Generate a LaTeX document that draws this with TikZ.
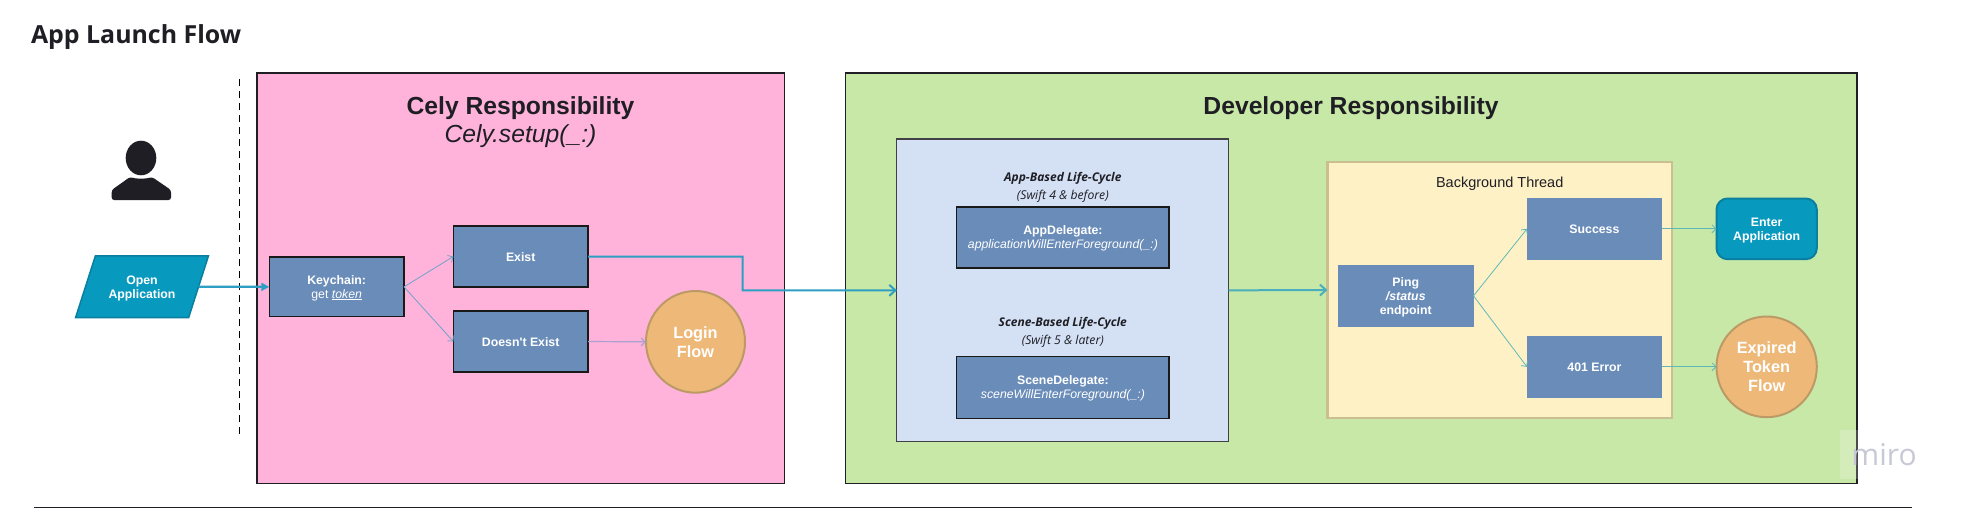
\documentclass[tikz,border=0pt]{standalone}
\usepackage{fontspec}
\setmainfont{Liberation Sans}[Ligatures=TeXOff]
\newfontfamily\opensans{Open Sans}
\usetikzlibrary{arrows.meta,shapes.geometric,calc}
\definecolor{pinkbg}{HTML}{FFB3DA}
\definecolor{greenbg}{HTML}{C8E8A8}
\definecolor{bluebg}{HTML}{D4E1F5}
\definecolor{yellowbg}{HTML}{FFF1C6}
\definecolor{yellowln}{HTML}{C9BF90}
\definecolor{boxblue}{HTML}{6A8CB9}
\definecolor{teal}{HTML}{0899BE}
\definecolor{tealdk}{HTML}{0A7F9F}
\definecolor{orangefill}{HTML}{EEB978}
\definecolor{orangeln}{HTML}{BB9A66}
\definecolor{darkink}{HTML}{1E1E24}
\definecolor{edgeteal}{HTML}{2E9FC2}
\definecolor{edgeblue}{HTML}{6FA3C8}
\definecolor{edgelav}{HTML}{A9A2D0}
\definecolor{edgegreen}{HTML}{5FB8B8}
\definecolor{miroink}{HTML}{C8C8D6}
\newcommand{\fs}[2]{\fontsize{#1}{#2}\selectfont}
\newcommand{\nudge}{\rule{0pt}{11pt}}
\newcommand{\boxat}[7]{%
  \pgfmathsetmacro{\bw}{#5-#3}\pgfmathsetmacro{\bh}{#6-#4}%
  \pgfmathsetmacro{\bx}{(#3+#5)/2}\pgfmathsetmacro{\by}{(#4+#6)/2}%
  \node[#1,minimum width=\bw pt,minimum height=\bh pt] (#2) at (\bx,\by) {#7};}
\tikzset{
  base/.style={rectangle,inner sep=0pt,outer sep=0pt,align=center},
  zone/.style={base,line width=1.1pt},
  procbox/.style={base,fill=boxblue,draw=black!90,line width=1.05pt,text=white,font=\fs{12.3}{14}},
  plainbox/.style={base,fill=boxblue,text=white,font=\fs{12.3}{14}},
  blob/.style={base,circle,ellipse,fill=orangefill,draw=orangeln,line width=2pt,text=white,font=\fs{16.3}{18.7}\bfseries},
  thinarrow/.style={line width=.8pt,-{Straight Barb[length=4pt,width=8pt]}},
  boldarrow/.style={line width=2pt,-{Straight Barb[length=6pt,width=11pt]}},
}
\begin{document}
\begin{tikzpicture}[x=1pt,y=-1pt]
\useasboundingbox (0,0) rectangle (1962,509);
\fill[white] (0,0) rectangle (1962,509);
% title
\node[base,anchor=west,font=\opensans\fs{24.9}{28}\bfseries,text=darkink] (title) at (31,37.5) {App Launch Flow};
% zones
\boxat{zone,fill=pinkbg,draw=darkink}{pink}{257}{73}{784.5}{483.5}{}
\boxat{zone,fill=greenbg,draw=darkink}{green}{845.4}{73}{1857}{483.5}{}
\node[base,font=\fs{24.7}{28}\bfseries,text=darkink] (celyt) at (520.5,108.5) {Cely Responsibility};
\node[base,font=\fs{24.7}{28}\itshape,text=darkink] (celys) at (520.5,136) {Cely.setup(\_:)};
\node[base,font=\fs{24.7}{28}\bfseries,text=darkink] (devt) at (1351,108.5) {Developer Responsibility};
% separator
\coordinate (septop) at (239.3,79);
\coordinate (sepbot) at (239.3,435);
\draw[black,line width=1.1pt,dash pattern=on 7pt off 5pt] (septop) -- (sepbot);
% person
\fill[darkink] (141,158) ellipse (15.3 and 17.3);
\fill[darkink,rounded corners=2.5pt] (111.7,200) -- (111.7,190) -- (130,177) -- (135,178.5) -- (147,178.5) -- (152,177) -- (171,190) -- (171,200) -- cycle;
% left nodes
\node[trapezium,trapezium stretches=true,trapezium left angle=62.7,trapezium right angle=117.3,
  minimum width=134pt,minimum height=61.7pt,inner sep=0pt,outer sep=0pt,fill=teal,draw=tealdk,line width=1.5pt,
  text=white,align=center,font=\fs{12.3}{14}\bfseries] (open) at (142,286.8) {\nudge Open\\Application};
\boxat{procbox}{key}{269.3}{257}{404}{316.7}{\nudge\textbf{Keychain:}\\get \textit{\underline{token}}}
\boxat{procbox,font=\fs{12.3}{14}\bfseries}{exist}{453.4}{226}{588}{287}{\nudge Exist}
\boxat{procbox,font=\fs{12.3}{14}\bfseries}{noexist}{453.4}{311}{588}{372}{\nudge Doesn't Exist}
\boxat{blob}{login}{646}{291}{745}{392.7}{Login\\Flow}
% middle
\boxat{base,fill=bluebg,draw=darkink!85,line width=1.1pt}{life}{896.8}{139}{1228.6}{441.7}{}
\node[base,font=\opensans\fs{12}{14}\bfseries\itshape,text=darkink] (applab) at (1062.8,178) {App-Based Life-Cycle};
\node[base,font=\opensans\fs{12.2}{14}\itshape,text=darkink] (appsub) at (1062.8,196.7) {(Swift 4 \& before)};
\node[base,font=\opensans\fs{12}{14}\bfseries\itshape,text=darkink] (scenelab) at (1062.8,323.7) {Scene-Based Life-Cycle};
\node[base,font=\opensans\fs{12.2}{14}\itshape,text=darkink] (scenesub) at (1062.8,341.7) {(Swift 5 \& later)};
\boxat{procbox}{appdel}{956.8}{207}{1169}{268}{\nudge\textbf{AppDelegate:}\\\textit{applicationWillEnterForeground(\_:)}}
\boxat{procbox}{scenedel}{956.8}{356.7}{1169}{418.3}{\nudge\textbf{SceneDelegate:}\\\textit{sceneWillEnterForeground(\_:)}}
% background thread
\boxat{base,fill=yellowbg,draw=yellowln,line width=2.5pt}{thread}{1327.4}{162}{1672}{418}{}
\node[base,font=\fs{14.5}{17},text=darkink] (threadlab) at (1499.7,183.5) {Background Thread};
\boxat{plainbox,font=\fs{12.3}{14}\bfseries}{ping}{1338}{265}{1473.5}{326.7}{\nudge Ping\\\textit{/status}\\endpoint}
\boxat{plainbox,font=\fs{12.3}{14}\bfseries}{succ}{1527}{198}{1661.8}{259.7}{Success}
\boxat{plainbox,font=\fs{12.3}{14}\bfseries}{err}{1527}{336}{1661.8}{397.7}{401 Error}
\boxat{base,rounded corners=11pt,fill=teal,draw=tealdk,line width=2pt,text=white,font=\fs{12.3}{14}\bfseries}{enter}{1716.5}{198.5}{1816.8}{259.2}{\nudge Enter\\Application}
\boxat{blob}{expired}{1716.5}{316.5}{1816.8}{417.2}{Expired\\Token\\Flow}
% connectors
\draw[edgeteal,line width=2.2pt,-{Triangle[length=8pt,width=8pt]}] ($(open.top right corner)!.5!(open.bottom right corner)$) -- (key.west);
\draw[edgeblue,thinarrow] (key.east) -- (exist.west);
\draw[edgeblue,thinarrow] (key.east) -- (noexist.west);
\draw[edgelav,line width=1.2pt,-{Straight Barb[length=4pt,width=8pt]}] (noexist.east) -- (login.west);
\coordinate (bend) at (742.7,290.35);
\draw[edgeteal,boldarrow] (exist.east) -| (bend) -- (life.west);
\draw[edgegreen!60!edgeteal,boldarrow] (life.east) -- (thread.west);
\draw[edgegreen,thinarrow] (ping.east) -- (succ.west);
\draw[edgegreen,thinarrow] (ping.east) -- (err.west);
\draw[edgegreen,thinarrow] (succ.east) -- (enter.west);
\draw[edgegreen,thinarrow] (err.east) -- (expired.west);
% rule and watermark
\coordinate (rulel) at (34,507.8);
\coordinate (ruler) at (1912,507.8);
\draw[darkink,line width=1.2pt] (rulel) -- (ruler);
\fill[white,opacity=.2] (1840,430) rectangle (1916,479);
\node[base,font=\opensans\fs{30}{32},text=miroink] (miro) at (1884,455) {miro};
\end{tikzpicture}
\end{document}
